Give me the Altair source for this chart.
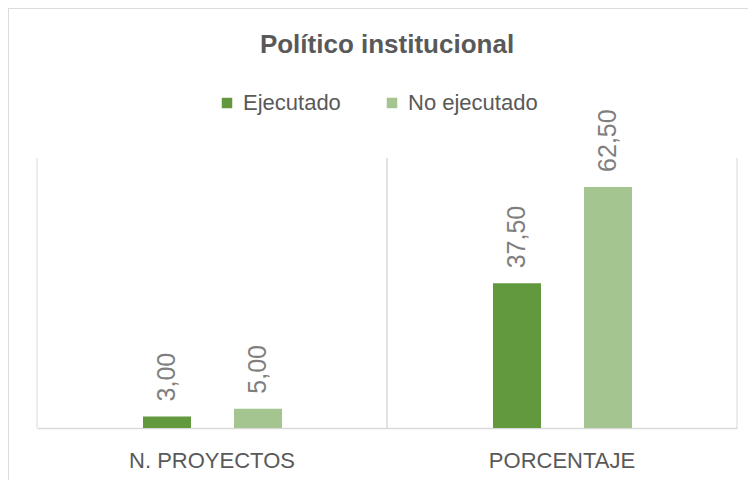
import altair as alt
import pandas as pd

categories = ["N. PROYECTOS", "PORCENTAJE"]
series = ["Ejecutado", "No ejecutado"]
ejecutado = [3.00, 37.50]
no_ejecutado = [5.00, 62.50]
colors = ["#62993E", "#A4C58F"]

rows = []
for i, c in enumerate(categories):
    for s, vals in zip(series, [ejecutado, no_ejecutado]):
        v = vals[i]
        rows.append({"cat": c, "serie": s, "val": v, "label": f"{v:.2f}".replace(".", ",")})
df = pd.DataFrame(rows)
cats_df = pd.DataFrame({"cat": categories})

W, H = 700, 270
FONT = "Liberation Sans"

xscale = alt.Scale(domain=categories, paddingInner=0, paddingOuter=0)
xoff = alt.XOffset("serie:N", scale=alt.Scale(domain=series, range=[106, 245],
                                               paddingInner=0.4725, paddingOuter=0))
yscale = alt.Scale(domain=[0, 70])

xaxis = alt.Axis(title=None, labelAngle=0, labelAlign="center", bandPosition=0.5,
                 labelFontSize=22, labelColor="#595959",
                 labelFont=FONT, domainColor="#D9D9D9", domainWidth=1.5,
                 ticks=False, labelPadding=22)

base = alt.Chart(df)

bars = base.mark_bar().encode(
    x=alt.X("cat:N", scale=xscale, sort=categories, axis=xaxis),
    xOffset=xoff,
    y=alt.Y("val:Q", scale=yscale, axis=None),
    color=alt.Color("serie:N", scale=alt.Scale(domain=series, range=colors),
                    legend=alt.Legend(title=None, orient="none", legendX=179, legendY=-66,
                                      direction="horizontal", symbolType="square",
                                      symbolSize=110, symbolStrokeWidth=0,
                                      labelFontSize=22, labelFont=FONT, labelColor="#595959",
                                      labelOffset=5, columnPadding=40)),
)

grid_left = alt.Chart(cats_df).mark_rule(color="#D9D9D9", strokeWidth=1).encode(
    x=alt.X("cat:N", scale=xscale, sort=categories, bandPosition=0, axis=xaxis),
    y=alt.value(0), y2=alt.value(H),
)
grid_right = alt.Chart(cats_df).mark_rule(color="#D9D9D9", strokeWidth=1).encode(
    x=alt.X("cat:N", scale=xscale, sort=categories, bandPosition=1, axis=xaxis),
    y=alt.value(0), y2=alt.value(H),
)

labels = base.mark_text(angle=270, align="left", baseline="middle", dx=15,
                        fontSize=25, font=FONT, color="#7F7F7F").encode(
    x=alt.X("cat:N", scale=xscale, sort=categories, axis=xaxis),
    xOffset=xoff,
    y=alt.Y("val:Q", scale=yscale),
    text="label:N",
)

frame_left = alt.Chart(cats_df).mark_rule(color="#D9D9D9", strokeWidth=1.5).encode(
    x=alt.value(-29), y=alt.value(-150), y2=alt.value(330),
)
frame_top = alt.Chart(cats_df).mark_rule(color="#D9D9D9", strokeWidth=1.5).encode(
    x=alt.value(-29), x2=alt.value(720), y=alt.value(-150),
)

chart = alt.layer(bars, grid_left, grid_right, labels, frame_left, frame_top).properties(
    width=W, height=H,
    title=alt.Title("Político institucional", fontSize=26, font=FONT, fontWeight="bold",
                    color="#595959", anchor="middle", baseline="alphabetic", offset=-72),
    autosize=alt.AutoSizeParams(type="none"),
    padding={"left": 29, "top": 150, "right": 11, "bottom": 52},
).configure_view(stroke=None)

chart.save("out.html", embed_options={"renderer": "svg", "actions": False})
